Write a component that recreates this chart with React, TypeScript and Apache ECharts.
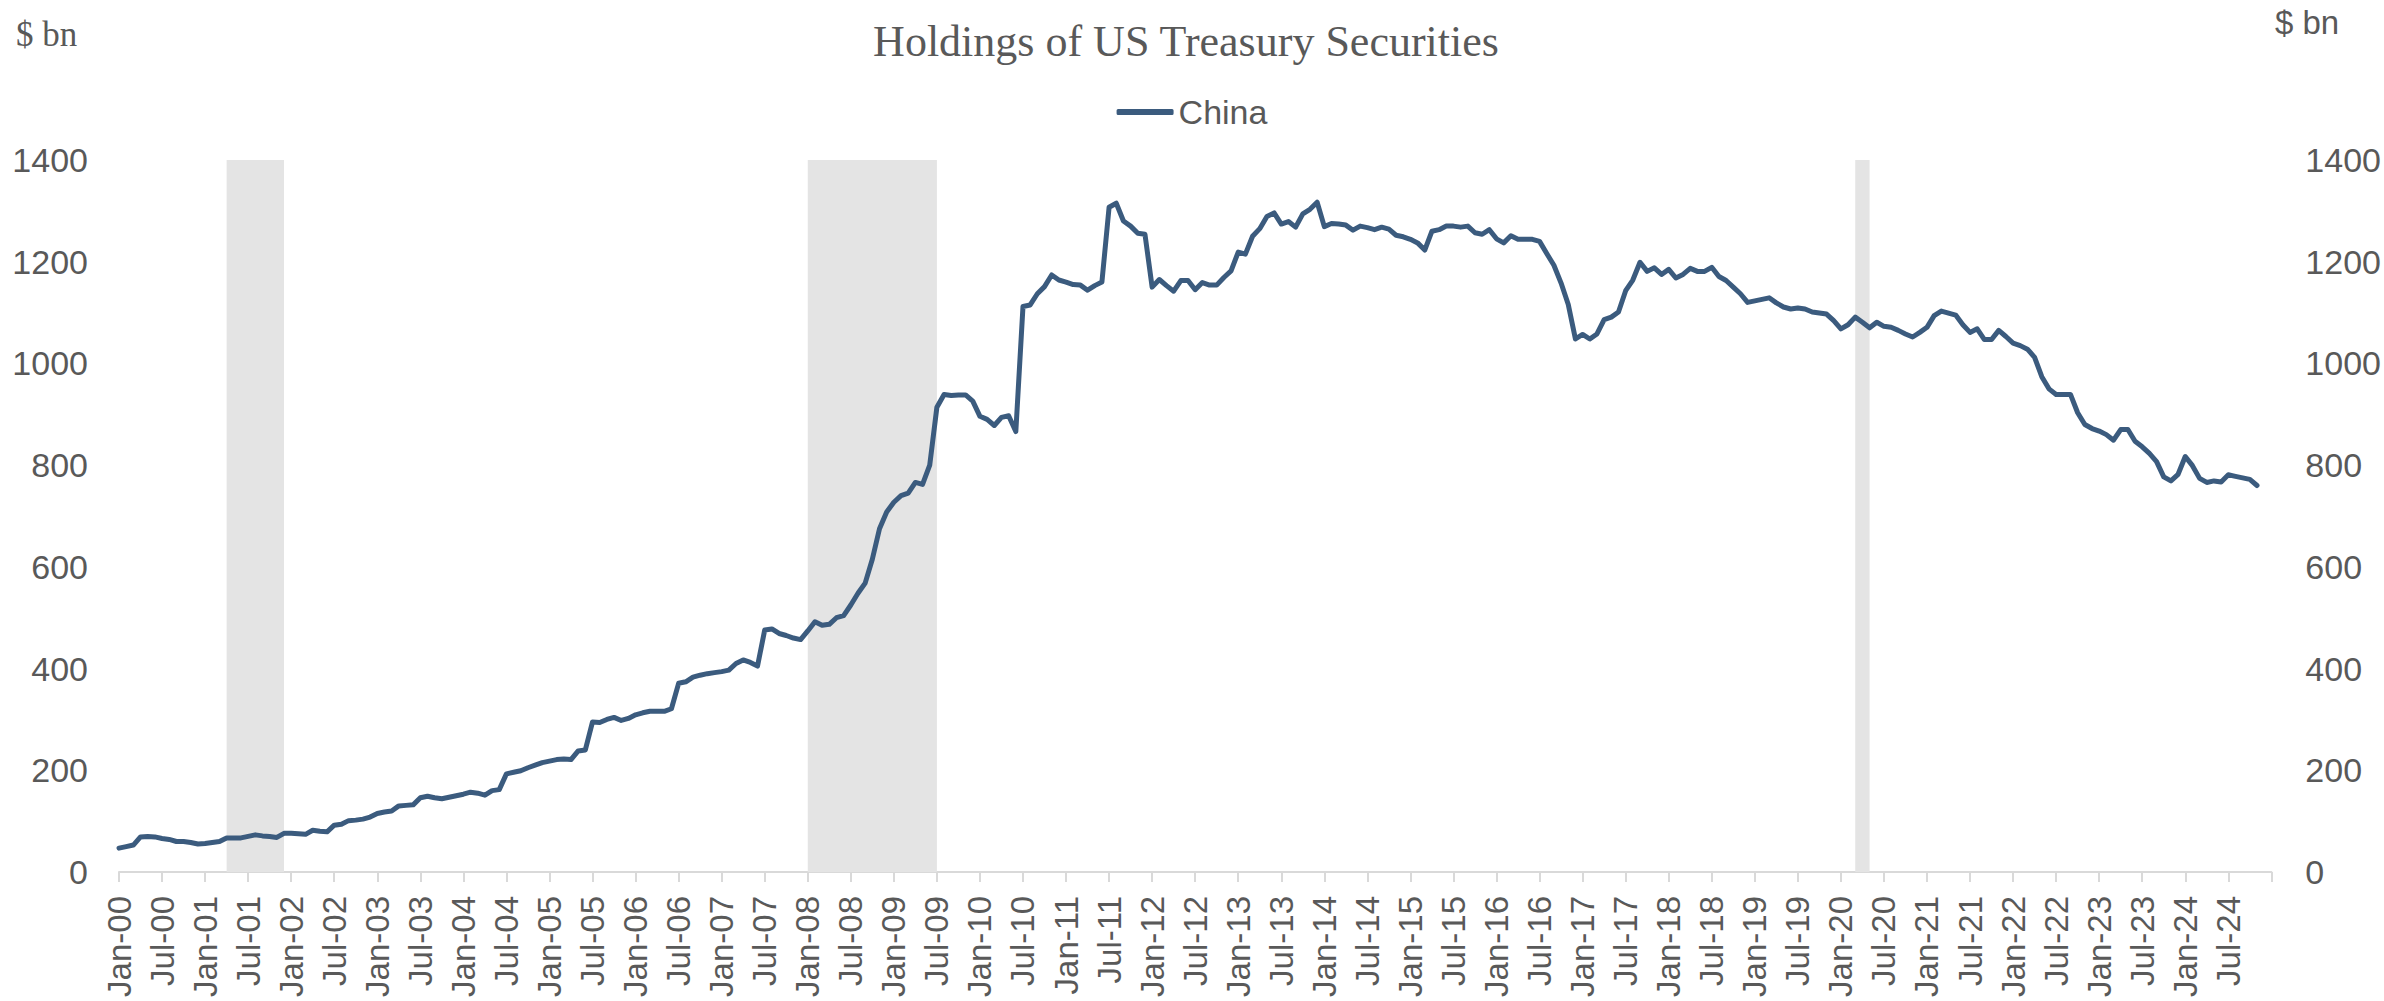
import { useEffect, useRef } from 'react';
import * as echarts from 'echarts';

// Month labels Jan-00 ... Jan-25 (axis runs to Jan-25)
const monthNames = ['Jan', 'Feb', 'Mar', 'Apr', 'May', 'Jun', 'Jul', 'Aug', 'Sep', 'Oct', 'Nov', 'Dec'];
const years = ['00', '01', '02', '03', '04', '05', '06', '07', '08', '09', '10', '11', '12', '13', '14', '15', '16', '17', '18', '19', '20', '21', '22', '23', '24'];
const categories: string[] = [];
years.forEach((yy) => monthNames.forEach((m) => categories.push(`${m}-${yy}`)));
categories.push('Jan-25');

// China holdings of US Treasury securities, $ bn (monthly, Jan-00 .. Nov-24)
const china: number[] = [
  47, 50, 53, 69, 70, 69, 66, 64, 60, 60, 58, 55, // 2000
  56, 58, 60, 67, 67, 67, 70, 73, 71, 70, 68, 76, // 2001
  76, 75, 74, 82, 80, 79, 92, 94, 101, 102, 104, 108, // 2002
  115, 118, 120, 130, 131, 132, 146, 149, 146, 144, 147, 150, // 2003
  153, 157, 155, 151, 160, 162, 193, 196, 199, 205, 210, 215, // 2004
  218, 221, 222, 221, 238, 240, 295, 294, 300, 304, 298, 302, // 2005
  309, 313, 316, 316, 316, 321, 371, 374, 383, 387, 390, 392, // 2006
  394, 397, 410, 417, 412, 405, 476, 478, 469, 465, 460, 457, // 2007
  474, 492, 485, 487, 500, 504, 525, 548, 568, 615, 675, 708, // 2008
  727, 740, 745, 766, 762, 800, 914, 939, 937, 938, 938, 926, // 2009
  896, 890, 878, 894, 897, 866, 1112, 1115, 1137, 1151, 1174, 1164, // 2010
  1160, 1155, 1154, 1144, 1153, 1160, 1307, 1315, 1280, 1270, 1256, 1254, // 2011
  1150, 1165, 1153, 1142, 1163, 1163, 1145, 1159, 1154, 1154, 1169, 1182, // 2012
  1219, 1215, 1250, 1265, 1289, 1296, 1274, 1279, 1268, 1294, 1303, 1317, // 2013
  1269, 1275, 1274, 1272, 1262, 1270, 1267, 1263, 1268, 1264, 1252, 1249, // 2014
  1244, 1237, 1223, 1260, 1263, 1270, 1270, 1268, 1270, 1257, 1254, 1263, // 2015
  1245, 1237, 1251, 1244, 1244, 1244, 1240, 1216, 1193, 1158, 1116, 1048, // 2016
  1057, 1048, 1058, 1086, 1091, 1101, 1143, 1164, 1199, 1181, 1188, 1175, // 2017
  1185, 1168, 1175, 1187, 1181, 1181, 1189, 1171, 1163, 1150, 1137, 1120, // 2018
  1123, 1126, 1129, 1119, 1111, 1107, 1109, 1107, 1101, 1099, 1097, 1084, // 2019
  1068, 1076, 1091, 1081, 1070, 1081, 1073, 1071, 1065, 1058, 1052, 1061, // 2020
  1071, 1094, 1103, 1099, 1095, 1076, 1061, 1068, 1047, 1047, 1065, 1053, // 2021
  1040, 1035, 1028, 1012, 974, 950, 939, 939, 939, 903, 880, 872, // 2022
  867, 860, 849, 870, 870, 847, 836, 823, 807, 777, 769, 782, // 2023
  817, 799, 774, 766, 769, 767, 781, 778, 775, 772, 760, // 2024
];

// Recession shading (start, end category)
const recessions: [string, string][] = [
  ['Apr-01', 'Dec-01'],
  ['Jan-08', 'Jul-09'],
  ['Mar-20', 'May-20'],
];

const yTicks = { min: 0, max: 1400, interval: 200 };

const TEXT = '#595959';
const SANS = 'Liberation Sans, Arial, sans-serif';
const SERIF = 'Liberation Serif, Times New Roman, serif';

export default function App() {
  const ref = useRef<HTMLDivElement>(null);
  useEffect(() => {
    document.body.style.margin = '0';
    if (!ref.current) return;
    const chart = echarts.init(ref.current, undefined, { renderer: 'svg' });
    const yAxisBase = {
      type: 'value',
      min: yTicks.min,
      max: yTicks.max,
      interval: yTicks.interval,
      splitLine: { show: false },
      axisLine: { show: false },
      axisTick: { show: false },
    };
    chart.setOption({
      animation: false,
      backgroundColor: '#ffffff',
      grid: { left: 119, right: 112, top: 160, bottom: 129, containLabel: false },
      legend: {
        data: ['China'],
        left: 'center',
        top: 90,
        icon: 'roundRect',
        itemWidth: 57,
        itemHeight: 6,
        textStyle: { fontFamily: SANS, fontSize: 34, color: TEXT },
      },
      graphic: [
        {
          type: 'text',
          x: 1186,
          y: 19,
          style: {
            text: 'Holdings of US Treasury Securities',
            font: `44px ${SERIF}`,
            fill: TEXT,
            textAlign: 'center',
            textVerticalAlign: 'top',
          },
        },
        {
          type: 'text',
          x: 16,
          y: 17,
          style: { text: '$ bn', font: `35px ${SERIF}`, fill: TEXT, textAlign: 'left', textVerticalAlign: 'top' },
        },
        {
          type: 'text',
          x: 2275,
          y: 6,
          style: { text: '$ bn', font: `33px ${SANS}`, fill: TEXT, textAlign: 'left', textVerticalAlign: 'top' },
        },
      ],
      xAxis: {
        type: 'category',
        data: categories,
        boundaryGap: false,
        axisLine: { show: true, lineStyle: { color: '#D9D9D9', width: 2 } },
        axisTick: {
          show: true,
          length: 10,
          interval: (index: number) => index % 6 === 0,
          lineStyle: { color: '#D9D9D9', width: 2 },
        },
        axisLabel: {
          interval: (index: number) => index % 6 === 0 && index < 300,
          rotate: 90,
          margin: 24,
          fontFamily: SANS,
          fontSize: 33,
          color: TEXT,
        },
        splitLine: { show: false },
      },
      yAxis: [
        {
          ...yAxisBase,
          position: 'left',
          axisLabel: { fontFamily: SANS, fontSize: 34, color: TEXT, margin: 31, formatter: (v: number) => String(v) },
        },
        {
          ...yAxisBase,
          position: 'right',
          axisLabel: { fontFamily: SANS, fontSize: 34, color: TEXT, margin: 34, formatter: (v: number) => String(v) },
        },
      ],
      series: [
        {
          name: 'China',
          type: 'line',
          data: china,
          yAxisIndex: 0,
          symbol: 'none',
          lineStyle: { color: '#3B5B7E', width: 5, cap: 'round', join: 'round' },
          itemStyle: { color: '#3B5B7E' },
          markArea: {
            silent: true,
            itemStyle: { color: '#E4E4E4' },
            data: recessions.map(([a, b]) => [{ xAxis: a }, { xAxis: b }]),
          },
        },
      ],
    });
    return () => chart.dispose();
  }, []);
  return <div ref={ref} style={{ width: 2384, height: 1001 }} />;
}
